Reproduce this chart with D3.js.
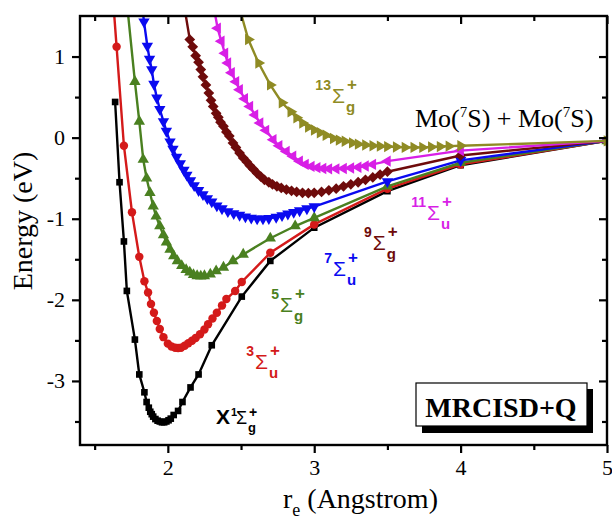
<!DOCTYPE html>
<html>
<head>
<meta charset="utf-8">
<title>Mo2 potential energy curves, MRCISD+Q</title>
<script src="https://cdn.jsdelivr.net/npm/d3@7"></script>
<style>
	body { margin: 0; background: #fff; }
	text { font-family: "Liberation Serif", "Times New Roman", serif; }
	.lbl text { font-family: "Liberation Sans", Arial, sans-serif; }
</style>
</head>
<body>
<div id="chart"></div>

<script type="text/javascript">
	// bond length r (Angstrom) and energy (eV) of each state
	var rX1 = [1.64, 1.67, 1.70, 1.72, 1.775, 1.805, 1.84, 1.855, 1.87, 1.88, 1.89, 1.90, 1.915, 1.93, 1.945, 1.96, 1.975, 1.99, 2.005, 2.02, 2.04, 2.07, 2.10, 2.155, 2.21, 2.30, 2.505, 2.70, 3.00, 3.50, 4.00, 5.00];
	var eX1 = [0.44, -0.55, -1.28, -1.89, -2.49, -2.92, -3.14, -3.26, -3.33, -3.38, -3.41, -3.44, -3.47, -3.49, -3.50, -3.51, -3.51, -3.50, -3.485, -3.465, -3.42, -3.37, -3.26, -3.08, -2.92, -2.56, -1.96, -1.52, -1.11, -0.66, -0.34, -0.04];

	var r3u = [1.62, 1.65, 1.70, 1.755, 1.805, 1.84, 1.865, 1.885, 1.905, 1.925, 1.945, 1.97, 2.00, 2.025, 2.05, 2.07, 2.09, 2.115, 2.14, 2.165, 2.19, 2.22, 2.25, 2.275, 2.305, 2.335, 2.37, 2.40, 2.46, 2.505, 2.70, 3.00, 3.50, 4.00, 5.00];
	var e3u = [1.85, 1.12, -0.10, -0.92, -1.47, -1.77, -1.91, -2.05, -2.16, -2.26, -2.36, -2.46, -2.54, -2.575, -2.59, -2.595, -2.59, -2.565, -2.535, -2.505, -2.47, -2.425, -2.365, -2.30, -2.23, -2.16, -2.07, -1.99, -1.89, -1.78, -1.42, -1.07, -0.63, -0.33, -0.04];

	var r5g = [1.71, 1.775, 1.805, 1.832, 1.855, 1.878, 1.90, 1.92, 1.945, 1.97, 1.99, 2.015, 2.04, 2.065, 2.095, 2.125, 2.15, 2.175, 2.20, 2.225, 2.25, 2.29, 2.33, 2.38, 2.445, 2.515, 2.70, 2.87, 3.00, 3.50, 4.00, 5.00];
	var e5g = [1.85, 0.69, 0.20, -0.27, -0.50, -0.68, -0.845, -0.97, -1.09, -1.20, -1.29, -1.38, -1.46, -1.52, -1.58, -1.63, -1.66, -1.69, -1.705, -1.71, -1.705, -1.685, -1.645, -1.60, -1.52, -1.44, -1.24, -1.09, -0.99, -0.60, -0.31, -0.04];

	var r7u = [1.82, 1.837, 1.86, 1.875, 1.89, 1.905, 1.925, 1.945, 1.97, 1.99, 2.015, 2.035, 2.06, 2.085, 2.11, 2.13, 2.155, 2.18, 2.21, 2.24, 2.27, 2.30, 2.335, 2.37, 2.41, 2.45, 2.49, 2.53, 2.57, 2.61, 2.65, 2.69, 2.74, 2.78, 2.82, 2.86, 2.90, 2.95, 3.00, 3.50, 4.00, 5.00];
	var e7u = [1.70, 1.43, 1.13, 0.97, 0.84, 0.66, 0.49, 0.35, 0.20, 0.08, -0.05, -0.14, -0.24, -0.32, -0.40, -0.46, -0.53, -0.59, -0.65, -0.70, -0.75, -0.79, -0.84, -0.875, -0.91, -0.935, -0.955, -0.975, -0.99, -1.00, -1.00, -0.995, -0.98, -0.96, -0.94, -0.92, -0.90, -0.875, -0.85, -0.54, -0.28, -0.04];

	var r9g = [2.10, 2.15, 2.17, 2.19, 2.21, 2.225, 2.24, 2.26, 2.28, 2.295, 2.31, 2.33, 2.345, 2.36, 2.38, 2.40, 2.42, 2.445, 2.465, 2.49, 2.515, 2.54, 2.56, 2.585, 2.61, 2.635, 2.66, 2.69, 2.715, 2.745, 2.775, 2.81, 2.845, 2.88, 2.92, 2.96, 3.00, 3.05, 3.10, 3.15, 3.20, 3.25, 3.30, 3.35, 3.40, 3.45, 3.50, 4.00, 5.00];
	var e9g = [1.75, 1.21, 1.12, 1.01, 0.93, 0.84, 0.75, 0.65, 0.55, 0.46, 0.385, 0.30, 0.25, 0.19, 0.14, 0.07, 0.02, -0.065, -0.12, -0.19, -0.25, -0.30, -0.345, -0.39, -0.44, -0.48, -0.52, -0.55, -0.575, -0.60, -0.62, -0.64, -0.655, -0.67, -0.68, -0.685, -0.68, -0.67, -0.65, -0.63, -0.60, -0.575, -0.55, -0.52, -0.49, -0.455, -0.42, -0.22, -0.04];

	var r11u = [2.30, 2.34, 2.365, 2.39, 2.41, 2.435, 2.465, 2.49, 2.525, 2.56, 2.595, 2.63, 2.67, 2.72, 2.76, 2.81, 2.855, 2.90, 2.94, 2.98, 3.02, 3.06, 3.10, 3.15, 3.20, 3.25, 3.30, 3.35, 3.40, 3.50, 4.00, 5.00];
	var e11u = [1.75, 1.35, 1.19, 1.04, 0.92, 0.80, 0.69, 0.59, 0.48, 0.385, 0.28, 0.18, 0.09, -0.025, -0.10, -0.17, -0.23, -0.29, -0.33, -0.355, -0.37, -0.38, -0.385, -0.385, -0.38, -0.375, -0.365, -0.35, -0.33, -0.29, -0.16, -0.04];

	var r13g = [2.47, 2.55, 2.62, 2.70, 2.78, 2.84, 2.88, 2.92, 2.96, 3.00, 3.04, 3.08, 3.13, 3.17, 3.21, 3.26, 3.30, 3.35, 3.40, 3.45, 3.50, 3.56, 3.62, 3.68, 3.74, 3.80, 3.86, 3.92, 4.00, 5.00];
	var e13g = [1.72, 1.21, 0.92, 0.65, 0.43, 0.32, 0.245, 0.18, 0.13, 0.095, 0.06, 0.03, -0.01, -0.03, -0.045, -0.065, -0.08, -0.09, -0.10, -0.105, -0.11, -0.115, -0.12, -0.12, -0.12, -0.115, -0.11, -0.105, -0.10, -0.04];

	var xTicks = [2, 3, 4, 5];
	var yTicks = [-3, -2, -1, 0, 1];

	var W = 612, H = 516;
	var plotL = 80, plotR = 607, plotT = 16, plotB = 445;

	var x = d3.scaleLinear().domain([1.4, 5]).range([plotL, plotR]);
	var y = d3.scaleLinear().domain([-3.79, 1.5]).range([plotB, plotT]);

	var svg = d3.select('#chart')
		.append('svg')
		.attr('width', W)
		.attr('height', H)
		.style('background', '#fff');

	svg.append('clipPath').attr('id', 'plot')
		.append('rect')
		.attr('x', plotL).attr('y', plotT)
		.attr('width', plotR - plotL).attr('height', plotB - plotT);

	var states = [
		{ r: rX1, e: eX1, color: '#000000', sym: d3.symbolSquare, size: 44, rot: 0 },
		{ r: r3u, e: e3u, color: '#d41a1a', sym: d3.symbolCircle, size: 56, rot: 0 },
		{ r: r5g, e: e5g, color: '#4a8020', sym: d3.symbolTriangle, size: 56, rot: 0 },
		{ r: r7u, e: e7u, color: '#0a0af0', sym: d3.symbolTriangle, size: 56, rot: 180 },
		{ r: r9g, e: e9g, color: '#6e0b0b', sym: d3.symbolSquare, size: 58, rot: 45 },
		{ r: r11u, e: e11u, color: '#d81fe6', sym: d3.symbolTriangle, size: 56, rot: 270 },
		{ r: r13g, e: e13g, color: '#8f8b24', sym: d3.symbolTriangle, size: 56, rot: 90 }
	];

	var line = d3.line()
		.x(d => x(d[0]))
		.y(d => y(d[1]));

	var plot = svg.append('g').attr('clip-path', 'url(#plot)');

	states.forEach(function (s) {
		var pts = s.r.map((r, i) => [r, s.e[i]]);
		var g = plot.append('g');
		g.append('path')
			.datum(pts)
			.attr('fill', 'none')
			.attr('stroke', s.color)
			.attr('stroke-width', 2.4)
			.attr('d', line);
		g.selectAll('path.m')
			.data(pts)
			.enter()
			.append('path')
			.attr('class', 'm')
			.attr('d', d3.symbol().type(s.sym).size(s.size))
			.attr('fill', s.color)
			.attr('transform', d => 'translate(' + x(d[0]) + ',' + y(d[1]) + ') rotate(' + s.rot + ')');
	});

	// axes: outward ticks on bottom/left, inward on top/right
	var xMinor = [1.5, 2.5, 3.5, 4.5];
	var yMinor = [-3.5, -2.5, -1.5, -0.5, 0.5];

	function styleAxis(g) {
		g.attr('font-family', null).attr('font-size', null);
		g.select('.domain').remove();
		g.selectAll('line').attr('stroke', '#000').attr('stroke-width', 2.2);
		g.selectAll('text').attr('font-size', 22).attr('fill', '#000');
	}

	svg.append('g').attr('transform', 'translate(0,' + plotB + ')')
		.call(d3.axisBottom(x).tickValues(xTicks).tickSize(8).tickPadding(6).tickFormat(d3.format('d')))
		.call(styleAxis);
	svg.append('g').attr('transform', 'translate(0,' + plotB + ')')
		.call(d3.axisBottom(x).tickValues(xMinor).tickSize(5).tickFormat(''))
		.call(styleAxis);
	svg.append('g').attr('transform', 'translate(' + plotL + ',0)')
		.call(d3.axisLeft(y).tickValues(yTicks).tickSize(8).tickPadding(7).tickFormat(d => d < 0 ? '-' + Math.abs(d) : d))
		.call(styleAxis);
	svg.append('g').attr('transform', 'translate(' + plotL + ',0)')
		.call(d3.axisLeft(y).tickValues(yMinor).tickSize(5).tickFormat(''))
		.call(styleAxis);
	svg.append('g').attr('transform', 'translate(0,' + plotT + ')')
		.call(d3.axisTop(x).tickValues(xTicks).tickSize(-8).tickFormat(''))
		.call(styleAxis);
	svg.append('g').attr('transform', 'translate(0,' + plotT + ')')
		.call(d3.axisTop(x).tickValues(xMinor).tickSize(-5).tickFormat(''))
		.call(styleAxis);
	svg.append('g').attr('transform', 'translate(' + plotR + ',0)')
		.call(d3.axisRight(y).tickValues(yTicks).tickSize(-8).tickFormat(''))
		.call(styleAxis);
	svg.append('g').attr('transform', 'translate(' + plotR + ',0)')
		.call(d3.axisRight(y).tickValues(yMinor).tickSize(-5).tickFormat(''))
		.call(styleAxis);

	svg.append('rect')
		.attr('x', plotL).attr('y', plotT)
		.attr('width', plotR - plotL).attr('height', plotB - plotT)
		.attr('fill', 'none')
		.attr('stroke', '#000')
		.attr('stroke-width', 2.4);

	// axis titles
	svg.append('text')
		.attr('transform', 'translate(32,221) rotate(-90)')
		.attr('text-anchor', 'middle')
		.attr('font-size', 28)
		.text('Energy (eV)');

	var xt = svg.append('text')
		.attr('x', 283).attr('y', 508)
		.attr('font-size', 28);
	xt.append('tspan').text('r');
	xt.append('tspan').attr('font-size', 18).attr('dy', 8).text('e');
	xt.append('tspan').attr('dy', -8).text(' (Angstrom)');

	// state labels: Σ placed at (r, E) of its left/baseline corner
	var labels = [
		{ r: 2.465, e: -3.53, mult: '1', sub: 'g', color: '#000000', pre: 'X' },
		{ r: 2.595, e: -2.855, mult: '3', sub: 'u', color: '#d41a1a' },
		{ r: 2.766, e: -2.15, mult: '5', sub: 'g', color: '#4a8020' },
		{ r: 3.128, e: -1.71, mult: '7', sub: 'u', color: '#0a0af0' },
		{ r: 3.40, e: -1.38, mult: '9', sub: 'g', color: '#6e0b0b' },
		{ r: 3.77, e: -1.01, mult: '11', sub: 'u', color: '#d81fe6' },
		{ r: 3.121, e: 0.43, mult: '13', sub: 'g', color: '#8f8b24' }
	];

	labels.forEach(function (l) {
		var px = x(l.r), py = y(l.e);
		var g = svg.append('g').attr('class', 'lbl').attr('fill', l.color);
		if (l.pre) {
			g.append('text').attr('x', px - 6).attr('y', py)
				.attr('text-anchor', 'end').attr('font-size', 21)
				.attr('font-weight', 'bold').text(l.pre);
			g.append('text').attr('x', px - 5).attr('y', py - 8)
				.attr('font-size', 11).attr('font-weight', 'bold').text(l.mult);
		} else {
			g.append('text').attr('x', px - 1).attr('y', py - 13)
				.attr('text-anchor', 'end').attr('font-size', 14)
				.attr('font-weight', 'bold').text(l.mult);
		}
		g.append('text').attr('x', px).attr('y', py)
			.attr('font-size', l.pre ? 18 : 21).text('\u03A3');
		g.append('text').attr('x', px + (l.pre ? 12 : 14)).attr('y', py + (l.pre ? 8 : 9))
			.attr('font-size', l.pre ? 13 : 15).attr('font-weight', 'bold').text(l.sub);
		g.append('text').attr('x', px + (l.pre ? 13 : 15)).attr('y', py - (l.pre ? 7 : 13))
			.attr('font-size', l.pre ? 14 : 17).attr('font-weight', 'bold').text('+');
	});

	// dissociation limit
	var mo = svg.append('text')
		.attr('x', x(3.688)).attr('y', y(0.135))
		.attr('font-size', 26);
	mo.append('tspan').text('Mo(');
	mo.append('tspan').attr('font-size', 15).attr('dy', -10).text('7');
	mo.append('tspan').attr('dy', 10).text('S) + Mo(');
	mo.append('tspan').attr('font-size', 15).attr('dy', -10).text('7');
	mo.append('tspan').attr('dy', 10).text('S)');

	// method box with drop shadow
	svg.append('rect')
		.attr('x', 422).attr('y', 389).attr('width', 171).attr('height', 44)
		.attr('fill', '#000');
	svg.append('rect')
		.attr('x', 416).attr('y', 383).attr('width', 171).attr('height', 43)
		.attr('fill', '#fff').attr('stroke', '#000').attr('stroke-width', 1.2);
	svg.append('text')
		.attr('x', 501).attr('y', 417)
		.attr('text-anchor', 'middle')
		.attr('font-size', 28)
		.attr('font-weight', 'bold')
		.text('MRCISD+Q');
</script>
</body>
</html>
